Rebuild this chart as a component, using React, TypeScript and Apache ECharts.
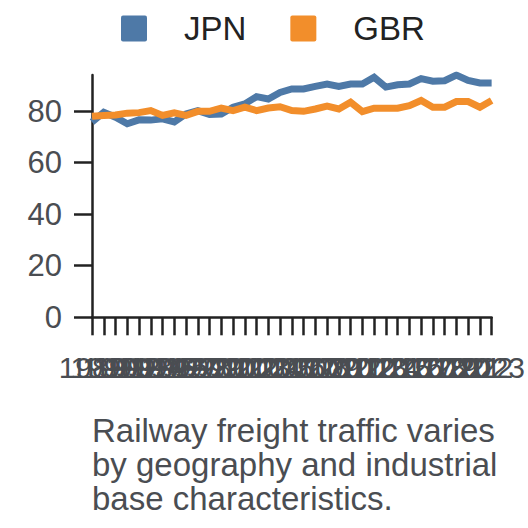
import React, { useEffect, useRef } from "react";
import * as echarts from "echarts";

const years: string[] = [
  "1989", "1990", "1991", "1992", "1993", "1994", "1995", "1996", "1997", "1998",
  "1999", "2000", "2001", "2002", "2003", "2004", "2005", "2006", "2007", "2008",
  "2009", "2010", "2011", "2012", "2013", "2014", "2015", "2016", "2017", "2018",
  "2019", "2020", "2021", "2022", "2023",
];

const jpn: number[] = [
  75.8, 79.5, 77.6, 75.1, 76.6, 76.5, 77.0, 75.8, 78.9, 80.2,
  78.7, 78.9, 81.5, 82.8, 85.6, 84.7, 87.2, 88.6, 88.6, 89.6,
  90.5, 89.6, 90.5, 90.5, 93.1, 89.3, 90.2, 90.5, 92.6, 91.6,
  91.8, 94.0, 91.9, 90.9, 90.9,
];

const gbr: number[] = [
  78.0, 78.3, 78.5, 79.2, 79.4, 80.2, 78.3, 79.3, 78.3, 79.9,
  79.9, 81.2, 80.2, 81.5, 80.2, 81.2, 81.7, 80.2, 79.9, 80.8,
  81.9, 80.8, 83.4, 79.8, 81.1, 81.1, 81.1, 82.1, 84.1, 81.5,
  81.5, 83.7, 83.7, 81.5, 84.1,
];

const yTicks: number[] = [0, 20, 40, 60, 80];
const seriesNames: string[] = ["JPN", "GBR"];
const caption = "Railway freight traffic varies\nby geography and industrial\nbase characteristics.";

const FONT = "'Liberation Sans', Arial, Helvetica, sans-serif";
const ICON = "path://M2,0H24A2,2,0,0,1,26,2V24A2,2,0,0,1,24,26H2A2,2,0,0,1,0,24V2A2,2,0,0,1,2,0Z";

export default function App() {
  const ref = useRef<HTMLDivElement>(null);

  useEffect(() => {
    if (!ref.current) return;
    const chart = echarts.init(ref.current, null, { renderer: "svg" });
    chart.setOption({
      animation: false,
      color: ["#4e79a7", "#f28e2b"],
      textStyle: { fontFamily: FONT },
      title: {
        text: caption,
        left: 92,
        top: 413,
        padding: 0,
        textStyle: {
          fontFamily: FONT,
          fontSize: 33,
          lineHeight: 34,
          fontWeight: "normal",
          color: "#4a4d52",
        },
      },
      legend: {
        data: seriesNames,
        left: 121,
        top: 12,
        padding: 0,
        icon: ICON,
        itemWidth: 26,
        itemHeight: 26,
        itemGap: 44,
        textStyle: {
          fontFamily: FONT,
          fontSize: 33,
          color: "#222222",
          padding: [0, 0, 0, 32],
        },
      },
      grid: { left: 92, right: 30, top: 75, bottom: 210.7, containLabel: false },
      xAxis: {
        type: "category",
        data: years,
        boundaryGap: false,
        axisLine: { show: true, lineStyle: { color: "#222222", width: 2.5 } },
        axisTick: { show: true, interval: 0, length: 18, lineStyle: { color: "#222222", width: 2.5 } },
        axisLabel: {
          interval: 0,
          hideOverlap: false,
          margin: 35,
          fontSize: 30,
          fontFamily: FONT,
          color: "#4a4d52",
        },
        splitLine: { show: false },
      },
      yAxis: {
        type: "value",
        min: 0,
        max: 94,
        interval: 20,
        axisLine: { show: true, lineStyle: { color: "#222222", width: 2.5 } },
        axisTick: {
          show: true,
          length: 18,
          customValues: yTicks,
          lineStyle: { color: "#222222", width: 2.5 },
        },
        axisLabel: {
          margin: 30,
          fontSize: 31,
          fontFamily: FONT,
          color: "#4a4d52",
          customValues: yTicks,
        },
        splitLine: { show: false },
      },
      series: [
        {
          name: seriesNames[0],
          type: "line",
          data: jpn,
          symbol: "none",
          lineStyle: { width: 7, join: "miter", cap: "butt" },
        },
        {
          name: seriesNames[1],
          type: "line",
          data: gbr,
          symbol: "none",
          lineStyle: { width: 7, join: "miter", cap: "butt" },
        },
      ],
    });
    return () => chart.dispose();
  }, []);

  return (
    <div
      ref={ref}
      style={{ position: "absolute", left: 0, top: 0, width: 528, height: 528 }}
    />
  );
}
